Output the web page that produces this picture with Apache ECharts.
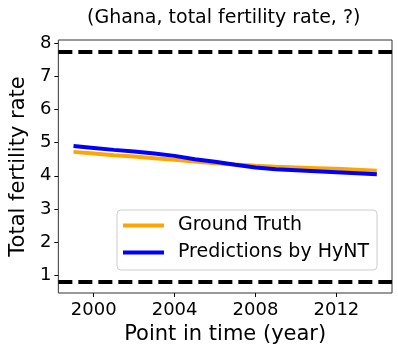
<!DOCTYPE html>
<html>
<head>
<meta charset="utf-8">
<script src="https://cdn.jsdelivr.net/npm/echarts@6/dist/echarts.min.js"></script>
<style>
  html, body { margin: 0; padding: 0; background: #fff; }
  #chart { width: 398px; height: 351px; }
</style>
</head>
<body>
<div id="chart"></div>
<script>
// years on the x axis
const years = [1999, 2000, 2001, 2002, 2003, 2004, 2005, 2006, 2007, 2008, 2009, 2010, 2011, 2012, 2013, 2014];
const groundTruth = [4.72, 4.67, 4.62, 4.58, 4.53, 4.48, 4.43, 4.38, 4.34, 4.30, 4.27, 4.25, 4.23, 4.21, 4.18, 4.15];
const predictions = [4.90, 4.84, 4.78, 4.73, 4.67, 4.60, 4.50, 4.42, 4.33, 4.25, 4.20, 4.17, 4.14, 4.11, 4.08, 4.05];
// dashed bounds
const boundLines = [7.73, 0.82];
const xTicks = [2000, 2004, 2008, 2012];
const yTicks = [1, 2, 3, 4, 5, 6, 7, 8];

const font = 'DejaVu Sans';
const pair = (arr) => years.map((y, i) => [y, arr[i]]);

const chart = echarts.init(document.getElementById('chart'));
const option = {
  animation: false,
  title: {
    text: '(Ghana, total fertility rate, ?)',
    left: 82,
    top: 4,
    textStyle: { fontFamily: font, fontSize: 19, fontWeight: 'normal', color: '#000' }
  },
  grid: {
    left: 50, right: 6, top: 40, bottom: 58,
    show: true, borderColor: '#333', borderWidth: 1
  },
  legend: {
    orient: 'vertical',
    left: 117, top: 210,
    padding: [6, 8, 8, 6],
    itemGap: 8,
    itemWidth: 41, itemHeight: 4,
    icon: 'rect',
    backgroundColor: 'rgba(255,255,255,0.8)',
    borderColor: '#ccc', borderWidth: 1, borderRadius: 4,
    textStyle: { fontFamily: font, fontSize: 19, color: '#000', padding: [0, 0, 0, 9] },
    data: ['Ground Truth', 'Predictions by HyNT']
  },
  xAxis: {
    type: 'value',
    min: 1998.25, max: 2014.75,
    name: 'Point in time (year)',
    nameLocation: 'middle', nameGap: 28,
    nameTextStyle: { fontFamily: font, fontSize: 21, color: '#000' },
    axisLine: { show: false },
    splitLine: { show: false },
    axisTick: { show: true, length: 4, inside: false, customValues: xTicks, lineStyle: { color: '#000' } },
    axisLabel: {
      customValues: xTicks, margin: 8,
      formatter: (v) => String(v),
      fontFamily: font, fontSize: 18, color: '#000'
    }
  },
  yAxis: {
    type: 'value',
    min: 0.474, max: 8.086,
    name: 'Total fertility rate',
    nameLocation: 'middle', nameGap: 24,
    nameTextStyle: { fontFamily: font, fontSize: 21, color: '#000' },
    axisLine: { show: false },
    splitLine: { show: false },
    axisTick: { show: true, length: 4, customValues: yTicks, lineStyle: { color: '#000' } },
    axisLabel: { customValues: yTicks, margin: 7, fontFamily: font, fontSize: 18, color: '#000' }
  },
  series: [
    {
      name: 'Ground Truth',
      type: 'line',
      data: pair(groundTruth),
      showSymbol: false,
      color: '#FFA500',
      lineStyle: { width: 4, color: '#FFA500' },
      z: 2
    },
    {
      name: 'Predictions by HyNT',
      type: 'line',
      data: pair(predictions),
      showSymbol: false,
      color: '#0000FF',
      lineStyle: { width: 4, color: '#0000FF' },
      z: 3,
      markLine: {
        silent: true,
        symbol: 'none',
        label: { show: false },
        lineStyle: { color: '#000', width: 4, type: [14, 6] },
        data: boundLines.map(v => ({ yAxis: v }))
      }
    }
  ]
};
chart.setOption(option);
</script>
</body>
</html>
